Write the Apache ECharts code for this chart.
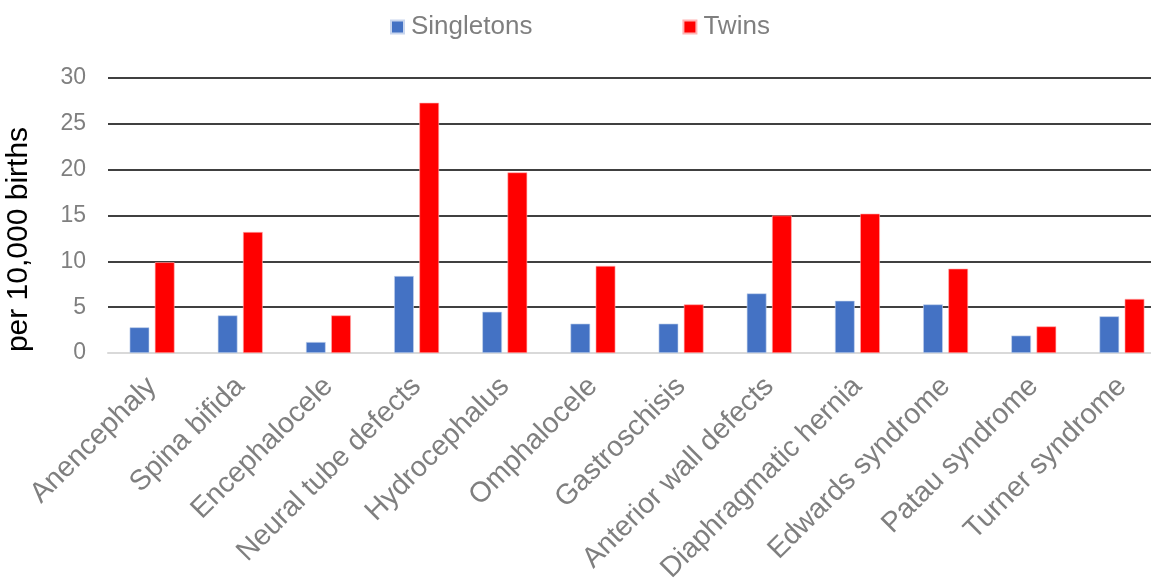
<!DOCTYPE html>
<html>
<head>
<meta charset="utf-8">
<title>Congenital anomalies: singletons vs twins</title>
<script src="https://cdn.jsdelivr.net/npm/echarts@6/dist/echarts.min.js"></script>
<style>
  html, body { margin: 0; padding: 0; background: #ffffff; }
  #chart { width: 1151px; height: 583px; }
</style>
</head>
<body>
<div id="chart"></div>
<script>
// Prevalence of selected congenital anomalies, per 10,000 births
const categories = [
  'Anencephaly', 'Spina bifida', 'Encephalocele', 'Neural tube defects',
  'Hydrocephalus', 'Omphalocele', 'Gastroschisis', 'Anterior wall defects',
  'Diaphragmatic hernia', 'Edwards syndrome', 'Patau syndrome', 'Turner syndrome'
];
const singletons = [2.8, 4.1, 1.2, 8.4, 4.5, 3.2, 3.2, 6.5, 5.7, 5.3, 1.9, 4.0];
const twins      = [9.9, 13.2, 4.1, 27.3, 19.7, 9.5, 5.3, 15.0, 15.2, 9.2, 2.9, 5.9];
const yTicks = { min: 0, max: 30, step: 5 };
const seriesNames = ['Singletons', 'Twins'];

const FONT = '"Liberation Sans", Arial, sans-serif';
const GREY = '#7f7f7f';

const chart = echarts.init(document.getElementById('chart'), null, { renderer: 'canvas' });

chart.setOption({
  animation: false,
  backgroundColor: '#ffffff',
  textStyle: { fontFamily: FONT },
  legend: {
    top: 14,
    left: 390,
    padding: 0,
    itemWidth: 13,
    itemHeight: 13,
    itemGap: 150,
    icon: 'rect',
    textStyle: { fontFamily: FONT, fontSize: 26, color: GREY, padding: [0, 0, 0, 2] },
    data: seriesNames
  },
  // the plot runs on past the right edge of the page
  grid: { left: 108, top: 78, width: 1058, height: 275, outerBoundsMode: 'none', containLabel: false },
  xAxis: {
    type: 'category',
    data: categories,
    axisLine: { show: true, lineStyle: { color: '#d9d9d9', width: 2 } },
    axisTick: { show: false },
    axisLabel: {
      rotate: 45,
      interval: 0,
      margin: 29,
      fontFamily: FONT,
      fontSize: 28.5,
      color: GREY
    }
  },
  yAxis: {
    type: 'value',
    min: yTicks.min,
    max: yTicks.max,
    interval: yTicks.step,
    name: 'per 10,000 births',
    nameLocation: 'middle',
    nameGap: 74,
    nameTextStyle: { fontFamily: FONT, fontSize: 30, color: '#000000', padding: [0, 48, 0, 0] },
    axisLine: { show: false },
    axisTick: { show: false },
    axisLabel: { margin: 22, fontFamily: FONT, fontSize: 23, color: GREY },
    splitLine: { show: true, lineStyle: { color: '#000000', width: 1.5 } }
  },
  series: [
    {
      name: seriesNames[0],
      type: 'bar',
      data: singletons,
      barWidth: 19.7,
      barGap: '28%',
      itemStyle: { color: '#4472c4', borderColor: '#c9d6ee', borderWidth: 0.6 }
    },
    {
      name: seriesNames[1],
      type: 'bar',
      data: twins,
      barWidth: 19.7,
      barGap: '28%',
      itemStyle: { color: '#ff0000', borderColor: '#ffb3b3', borderWidth: 0.6 }
    }
  ]
});
</script>
</body>
</html>
